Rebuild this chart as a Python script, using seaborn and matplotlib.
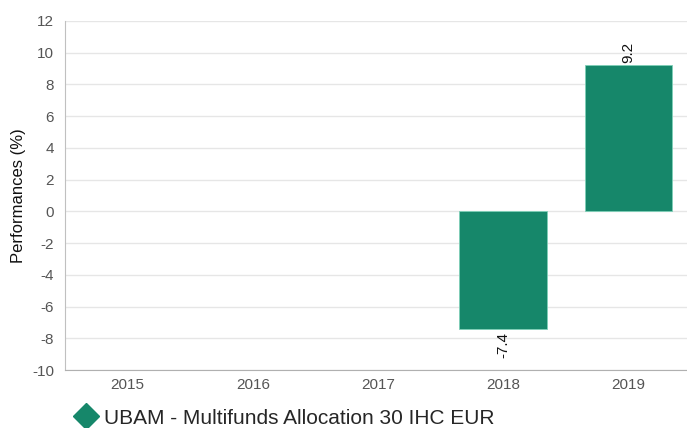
import matplotlib
matplotlib.use("Agg")
import matplotlib.pyplot as plt
import seaborn as sns
import numpy as np
import pandas as pd
from matplotlib.lines import Line2D

years = ["2015", "2016", "2017", "2018", "2019"]
values = [np.nan, np.nan, np.nan, -7.4, 9.2]
series_name = "UBAM - Multifunds Allocation 30 IHC EUR"
yticks = [-10, -8, -6, -4, -2, 0, 2, 4, 6, 8, 10, 12]

color = "#16876a"

sns.set_style("white")
plt.rcParams['font.family'] = ['Liberation Sans', 'DejaVu Sans']

df = pd.DataFrame({"year": years, "value": values})

fig = plt.figure(figsize=(6.87, 4.28), dpi=100)
ax = fig.add_axes([65/687, 58/428, 626/687, 349/428])

sns.barplot(data=df, x="year", y="value", order=years, color=color,
            width=0.7, saturation=1, ax=ax, edgecolor="#7fd0b8", linewidth=0.6)

ax.set_ylim(-10, 12)
ax.set_yticks(yticks)
ax.set_yticklabels([str(t) for t in yticks])
ax.set_xlim(-0.5, len(years) - 0.5)
ax.grid(axis="y", color="#e6e6e6", linewidth=1)
ax.set_axisbelow(True)
for s in ["top", "right"]:
    ax.spines[s].set_visible(False)
ax.spines["left"].set_color("#c0c0c0")
ax.spines["bottom"].set_color("#b0b0b0")
ax.tick_params(axis="both", colors="#555555", labelsize=11, length=0, pad=8)
ax.tick_params(axis="x", pad=6)
ax.set_xlabel("")
ax.set_ylabel("Performances (%)", fontsize=12, color="#111111", labelpad=4)

for i, v in enumerate(values):
    if np.isnan(v):
        continue
    if v >= 0:
        ax.annotate(f"{v:.1f}", (i, v), xytext=(0, 2), textcoords="offset points",
                    rotation=90, ha="center", va="bottom", fontsize=11, color="#111111")
    else:
        ax.annotate(f"{v:.1f}", (i, v), xytext=(0, -2), textcoords="offset points",
                    rotation=90, ha="center", va="top", fontsize=11, color="#111111")

handle = Line2D([], [], marker="D", linestyle="none", markersize=13,
                markerfacecolor=color, markeredgecolor=color)
fig.legend([handle], [series_name], loc="center left", bbox_to_anchor=(73/687, 10/428),
           frameon=False, fontsize=15, handletextpad=0.3, borderaxespad=0.0,
           borderpad=0.0, handlelength=1.2)

fig.savefig("out.png", dpi=100)
